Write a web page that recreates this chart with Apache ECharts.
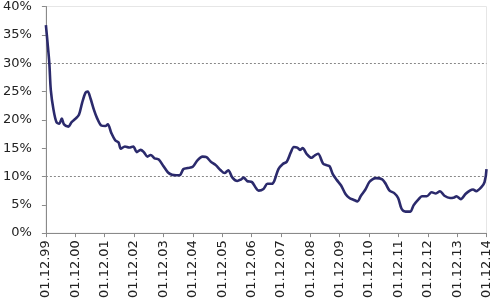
<!DOCTYPE html>
<html>
<head>
<meta charset="utf-8">
<script src="https://cdn.jsdelivr.net/npm/echarts@6/dist/echarts.min.js"></script>
<style>html,body{margin:0;padding:0;background:#fff}#c{width:493px;height:301px}</style>
</head>
<body>
<div id="c"></div>
<script>
// month index since 01.12.99
const months = [0,0.7,1.4,2.0,3.1,4.3,5.4,6.5,7.4,9.2,10.5,12.1,13.5,14.8,16.2,17.1,18.2,19.6,20.9,22.6,24.3,25.3,26.7,28.3,29.7,30.6,32.3,34.0,35.7,37.1,38.7,40.0,41.5,42.8,44.4,46.1,47.9,49.9,51.5,53.2,54.6,56.2,58.0,60.0,62.0,64.0,65.6,67.4,69.4,71.4,73.0,74.5,76.2,78.2,79.8,80.8,82.2,84.2,85.6,86.9,88.9,90.5,92.3,93.3,95.0,96.8,98.4,100.0,101.3,102.7,103.8,104.9,106.5,108.5,109.8,111.2,113.2,114.6,115.9,117.2,118.8,120.6,122.4,124.0,125.6,127.3,128.7,130.4,132.1,133.4,134.8,137.4,138.8,140.4,142.2,143.9,145.3,146.9,148.9,150.2,152.3,153.6,155.6,157.6,159.3,161.0,162.8,165.1,166.8,167.7,169.5,171.4,173.2,174.5,175.8,177.9,179.2,180];
const values = [36.7,33.5,30,25.3,21.8,19.6,19.3,20.2,19.2,18.8,19.6,20.2,20.9,23,24.8,25,23.8,21.8,20.3,19,18.9,19.2,17.7,16.4,16,14.9,15.3,15.1,15.3,14.3,14.7,14.3,13.5,13.8,13.2,13,11.9,10.7,10.3,10.2,10.2,11.3,11.5,11.7,12.9,13.5,13.4,12.6,12,11.1,10.6,11.1,9.8,9.2,9.5,9.8,9.2,9.0,8.1,7.5,7.8,8.7,8.7,9.2,11.3,12.2,12.6,14.2,15.2,15.1,14.7,15,14,13.3,13.7,14,12.3,12,11.8,10.4,9.4,8.4,6.9,6.2,5.9,5.6,6.6,7.6,9.0,9.5,9.7,9.5,8.7,7.5,7.1,6.2,4.3,3.8,3.8,4.9,6.0,6.5,6.5,7.2,7.0,7.4,6.6,6.2,6.3,6.5,6.0,6.9,7.5,7.7,7.4,8.1,9.0,11.3];
const tickLabels = ['01.12.99','01.12.00','01.12.01','01.12.02','01.12.03','01.12.04','01.12.05','01.12.06','01.12.07','01.12.08','01.12.09','01.12.10','01.12.11','01.12.12','01.12.13','01.12.14'];
const yTicks = [0,5,10,15,20,25,30,35,40];

const chart = echarts.init(document.getElementById('c'), null, {renderer:'canvas'});
const font = 'DejaVu Sans';
chart.setOption({
  animation:false,
  grid:{left:41.3,right:6.3,top:5.85,bottom:66.5,show:true,borderColor:'#e6e6e6',borderWidth:1},
  xAxis:{
    type:'value',min:0,max:180,interval:12,
    axisLine:{lineStyle:{color:'#8a8a8a',width:1}},
    axisTick:{show:true,length:4,lineStyle:{color:'#8a8a8a'}},
    axisLabel:{rotate:90,margin:7,color:'#222',fontFamily:font,fontSize:13,
      formatter:v=>tickLabels[Math.round(v/12)]},
    splitLine:{show:false}
  },
  yAxis:{
    type:'value',min:yTicks[0],max:yTicks[yTicks.length-1],interval:5,
    axisLine:{show:true,lineStyle:{color:'#8a8a8a',width:1}},
    axisTick:{show:true,length:4,lineStyle:{color:'#8a8a8a'}},
    axisLabel:{margin:14,color:'#222',fontFamily:font,fontSize:13,formatter:'{value}%'},
    splitLine:{show:true,lineStyle:{type:[2,2],width:1,
      color:['rgba(0,0,0,0)','rgba(0,0,0,0)','#888','rgba(0,0,0,0)','rgba(0,0,0,0)','rgba(0,0,0,0)','#888','rgba(0,0,0,0)','rgba(0,0,0,0)']}}
  },
  series:[{
    type:'line',
    data:months.map((m,i)=>[m,values[i]]),
    showSymbol:false,smooth:0.3,
    lineStyle:{color:'#2b2a6c',width:2.6},
    z:5
  }]
});
</script>
</body>
</html>
